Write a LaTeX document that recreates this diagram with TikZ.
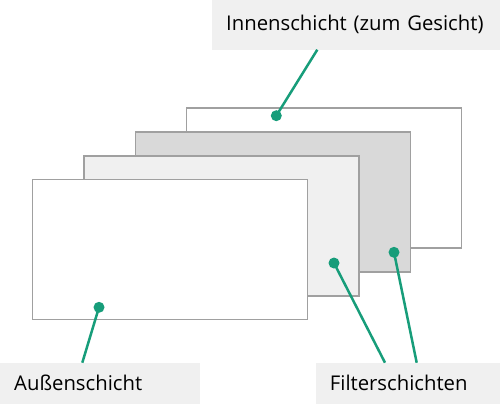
\documentclass[tikz,border=0pt]{standalone}
\usepackage{fontspec}
\setmainfont{Open Sans}
\definecolor{layerline}{RGB}{160,160,160}
\definecolor{lightlayer}{RGB}{240,240,240}
\definecolor{darklayer}{RGB}{217,217,217}
\definecolor{tagfill}{RGB}{240,240,240}
\definecolor{pingreen}{RGB}{23,157,122}
\begin{document}
\begin{tikzpicture}[
  x=1pt, y=-1pt,
  layer/.style={draw=layerline,line width=1.4pt,anchor=north west,
    minimum width=275pt,minimum height=140pt,inner sep=0pt},
  tag/.style={fill=tagfill,anchor=north west,inner xsep=14pt,inner ysep=0pt,
    align=left,font=\fontsize{20.3}{24}\selectfont},
  pin/.style={circle,fill=pingreen,inner sep=0pt,minimum size=11pt},
  ]
  \useasboundingbox (0,0) rectangle (500,405);
  % the four layers, back to front
  \node[layer,fill=white] (inner) at (186,107.3) {};
  \node[layer,fill=darklayer] (filtb) at (134.7,131.3) {};
  \node[layer,fill=lightlayer] (filta) at (83.3,155.3) {};
  \node[layer,fill=white] (outer) at (31.7,179) {};
  % labels
  \node[tag,text width=260pt,minimum height=49.3pt] (itag) at (212,0)
    {Innenschicht (zum Gesicht)};
  \node[tag,text width=172pt,minimum height=40.6pt] (otag) at (0,362.7)
    {Außenschicht};
  \node[tag,text width=156.3pt,minimum height=40.6pt] (ftag) at (315.7,362.7)
    {Filterschichten};
  % pins
  \node[pin] (ipin) at (276.3,115.7) {};
  \node[pin] (bpin) at (394,252.3) {};
  \node[pin] (apin) at (334,263) {};
  \node[pin] (opin) at (99,307.3) {};
  \path[draw=pingreen,line width=2.5pt]
  ([xshift=105.3pt]itag.south west) edge (ipin.center)
  ([xshift=82.3pt]otag.north west) edge (opin.center)
  ([xshift=69.3pt]ftag.north west) edge (apin.center)
  ([xshift=101pt]ftag.north west) edge (bpin.center);
\end{tikzpicture}
\end{document}
